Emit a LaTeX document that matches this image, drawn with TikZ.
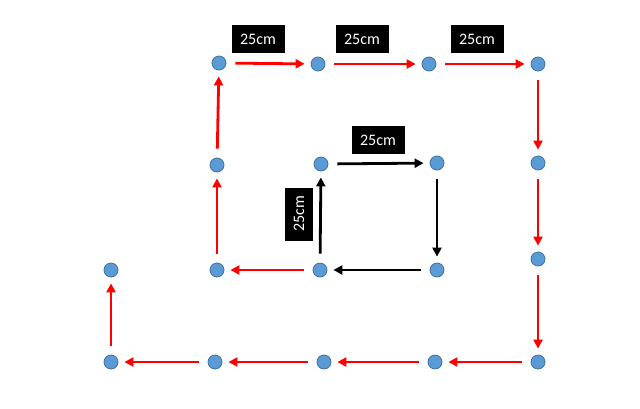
\documentclass[tikz,border=0pt]{standalone}
\usepackage{fontspec}
\setmainfont{Carlito}
\usetikzlibrary{arrows.meta}
\definecolor{dotblue}{HTML}{5B9BD5}
\definecolor{dotedge}{HTML}{41719C}
\begin{document}
\begin{tikzpicture}[x=1pt,y=-1pt,
  dot/.style={circle, fill=dotblue, draw=dotedge, line width=0.8pt, minimum size=14pt, inner sep=0pt},
  lbl/.style={fill=black, text=white, font=\fontsize{16}{16}\selectfont, minimum width=53pt, minimum height=28pt, inner sep=0pt},
  arr/.style={line width=2.8pt, -{Triangle[length=9pt,width=9pt]}, shorten <=9pt, shorten >=6pt},
  redarr/.style={arr, draw=red, fill=red},
  blkarr/.style={arr, draw=black, fill=black}]
\useasboundingbox (0,0) rectangle (640,408);
% dots
\node[dot] (t1) at (219,63) {};
\node[dot] (t2) at (318,64) {};
\node[dot] (t3) at (429,64) {};
\node[dot] (t4) at (538,64) {};
\node[dot] (m1) at (217,165) {};
\node[dot] (m2) at (321,164) {};
\node[dot] (m3) at (437,163) {};
\node[dot] (m4) at (538,163) {};
\node[dot] (r4) at (538,259) {};
\node[dot] (l0) at (111,270) {};
\node[dot] (l1) at (217,270) {};
\node[dot] (l2) at (320,270) {};
\node[dot] (l3) at (437,270) {};
\node[dot] (b0) at (111,362) {};
\node[dot] (b1) at (215,362) {};
\node[dot] (b2) at (324,362) {};
\node[dot] (b3) at (435,362) {};
\node[dot] (b4) at (538,362) {};
% labels
\node[lbl] (L1) at (258,39) {25cm};
\node[lbl] (L2) at (362,39) {25cm};
\node[lbl] (L3) at (477,39) {25cm};
\node[lbl] (L4) at (378,140) {25cm};
\node[lbl, rotate=90] (L5) at (299,214) {25cm};
% black inner square
\draw[blkarr] (m2) -- (m3);
\draw[blkarr] (m3) -- (l3);
\draw[blkarr] (l3) -- (l2);
\draw[blkarr] (l2) -- (m2);
% red spiral
\draw[redarr] (l2) -- (l1);
\draw[redarr] (l1) -- (m1);
\draw[redarr] (m1) -- (t1);
\draw[redarr] (t1) -- (t2);
\draw[redarr] (t2) -- (t3);
\draw[redarr] (t3) -- (t4);
\draw[redarr] (t4) -- (m4);
\draw[redarr] (m4) -- (r4);
\draw[redarr] (r4) -- (b4);
\draw[redarr] (b4) -- (b3);
\draw[redarr] (b3) -- (b2);
\draw[redarr] (b2) -- (b1);
\draw[redarr] (b1) -- (b0);
\draw[redarr] (b0) -- (l0);
\end{tikzpicture}
\end{document}
